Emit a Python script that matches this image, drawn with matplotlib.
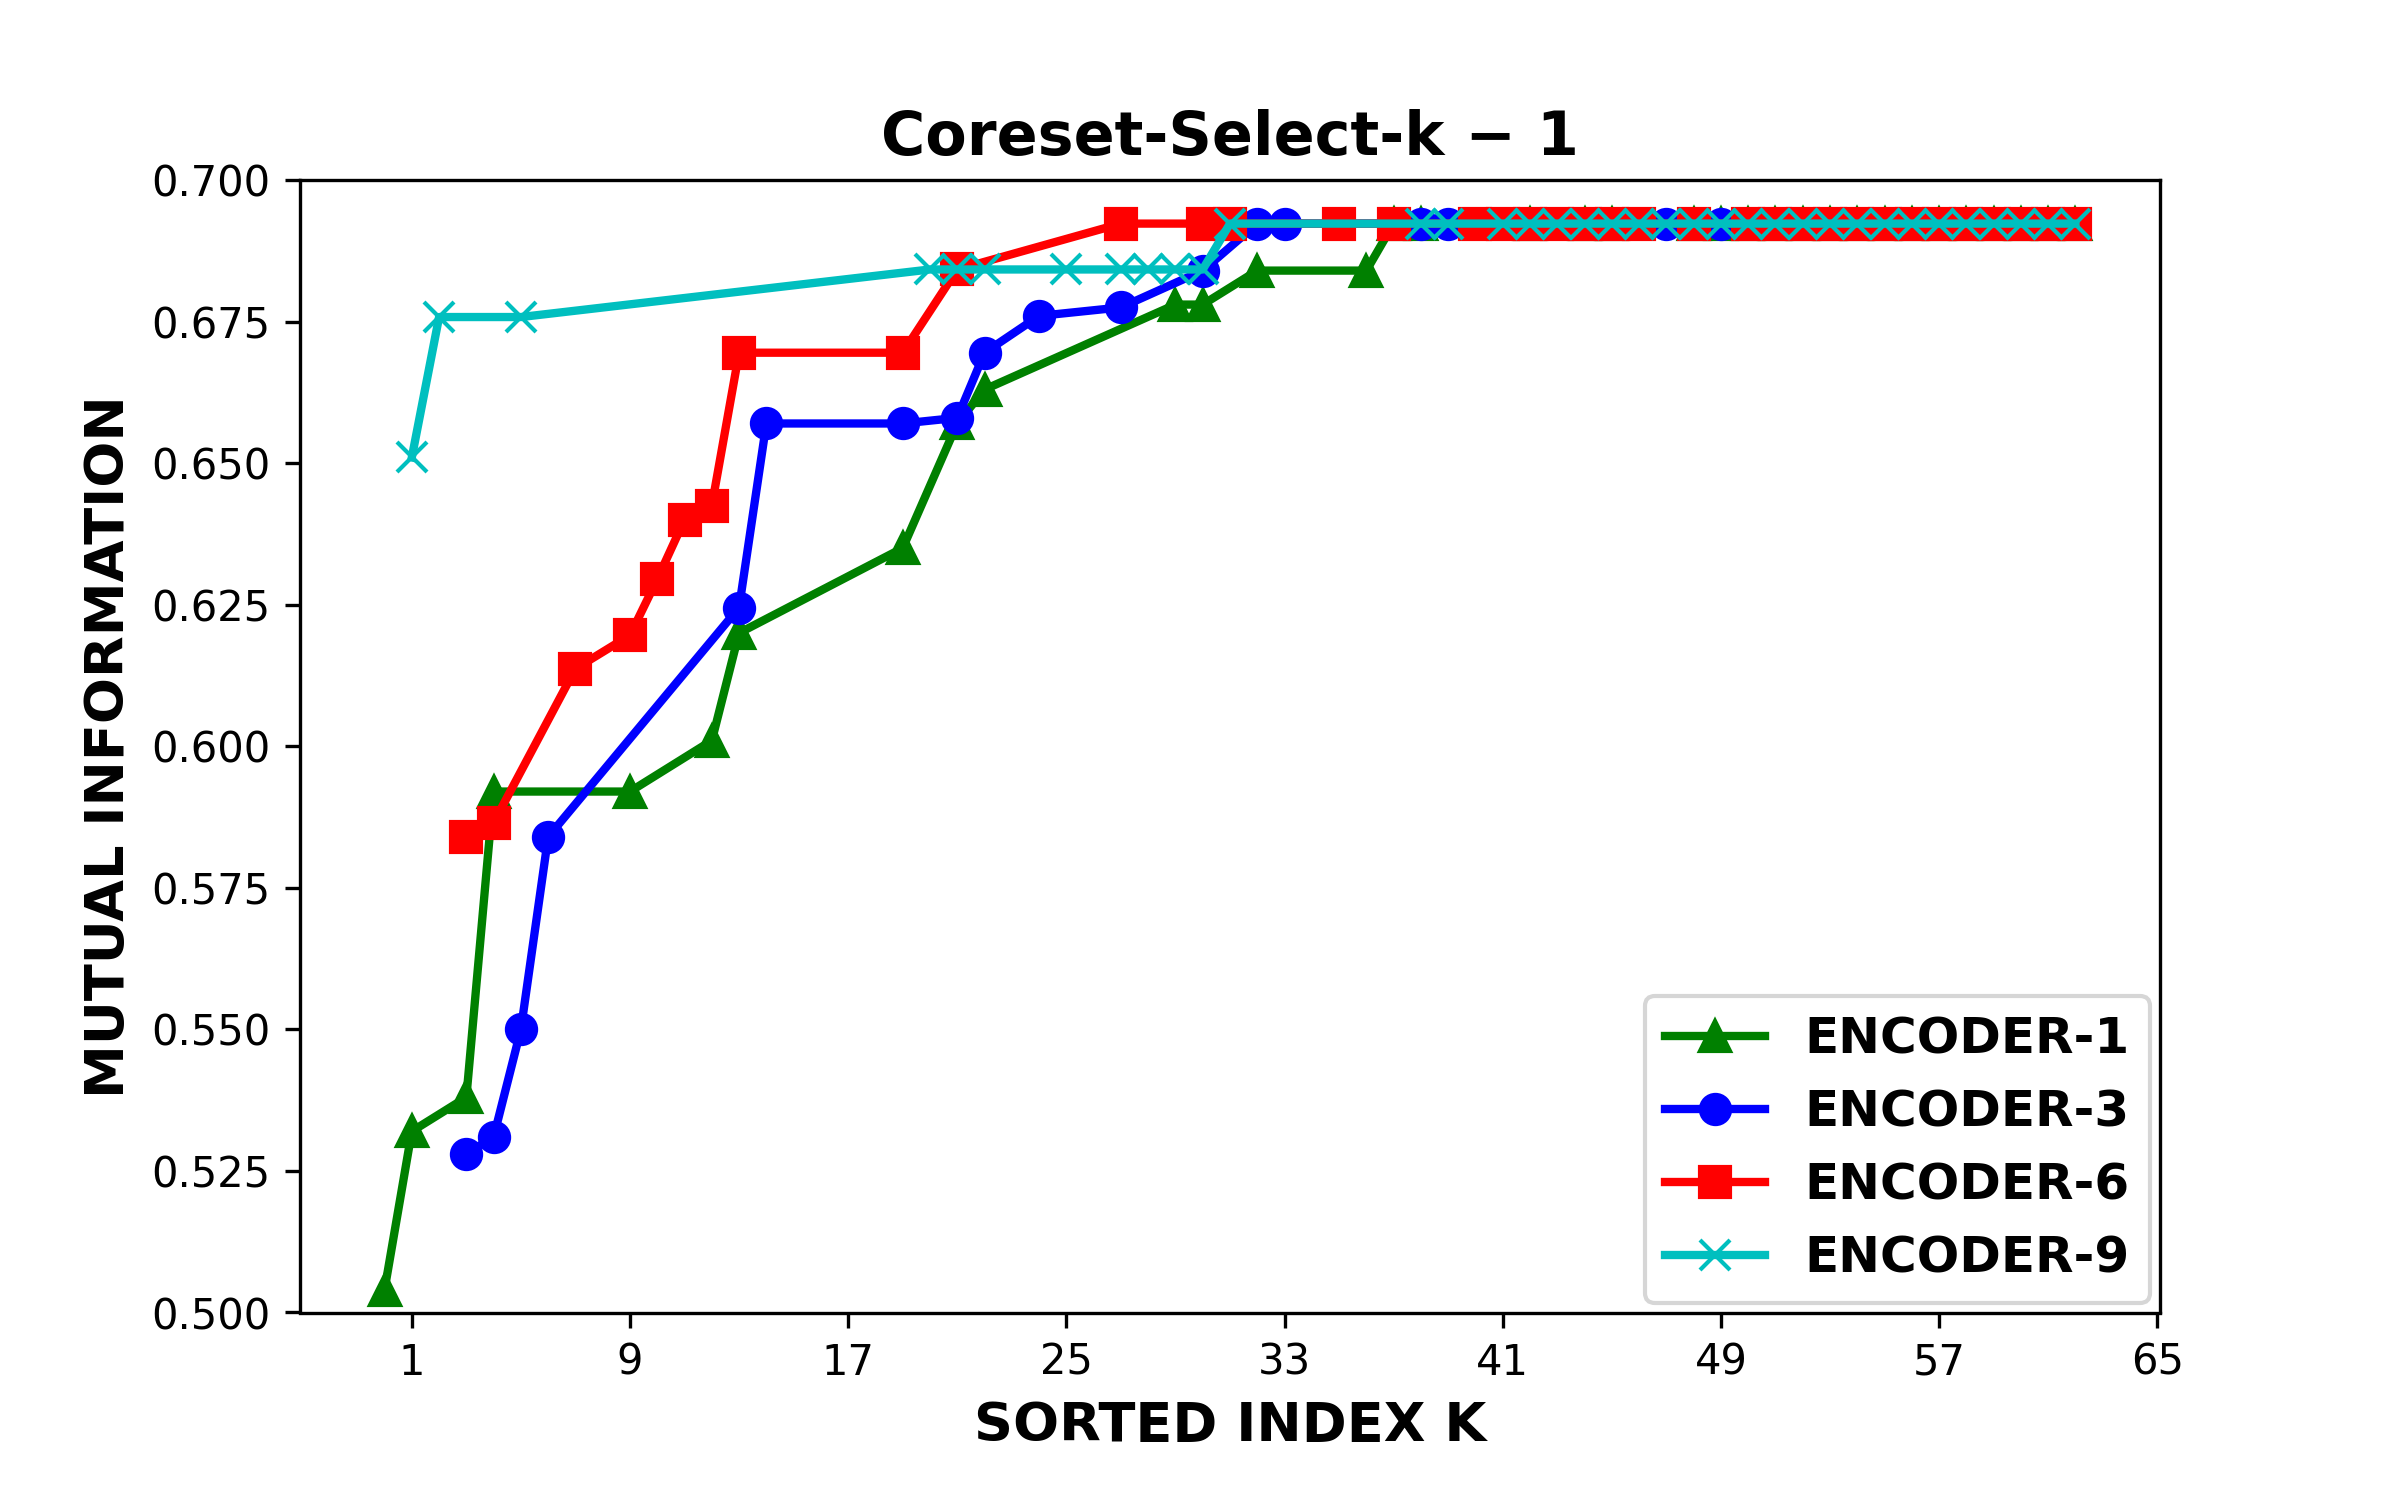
import matplotlib
matplotlib.use("Agg")
import matplotlib.pyplot as plt

# ENCODER-1
enc1_k = [0, 1, 3, 4, 9, 12, 13, 19, 21, 22, 29, 30, 32, 36,
          37, 38, 42, 44, 45, 48, 49, 50, 51, 52, 53, 54, 55, 56, 57, 58, 59, 60, 61, 62]
enc1_mi = [0.504, 0.532, 0.538, 0.592, 0.592, 0.601, 0.620, 0.635, 0.657, 0.663, 0.678, 0.678, 0.684, 0.684,
           0.6923, 0.6923, 0.6923, 0.6923, 0.6923, 0.6923, 0.6923, 0.6923, 0.6923, 0.6923,
           0.6923, 0.6923, 0.6923, 0.6923, 0.6923, 0.6923, 0.6923, 0.6923, 0.6923, 0.6923]

# ENCODER-3
enc3_k = [3, 4, 5, 6, 13, 14, 19, 21, 22, 24, 27, 30, 32, 33, 38, 39, 47, 49]
enc3_mi = [0.528, 0.531, 0.550, 0.584, 0.6245, 0.657, 0.657, 0.658, 0.6695, 0.676, 0.6775, 0.684,
           0.6923, 0.6923, 0.6923, 0.6923, 0.6923, 0.6923]

# ENCODER-6
enc6_k = [3, 4, 7, 9, 10, 11, 12, 13, 19, 21, 27, 30, 31, 35, 37, 40, 41, 42, 43, 44, 45, 46, 48,
          50, 51, 52, 53, 54, 55, 56, 57, 58, 59, 60, 61, 62]
enc6_mi = [0.584, 0.5865, 0.6137, 0.6196, 0.6295, 0.640, 0.6425, 0.6695, 0.6695, 0.6842,
           0.6923, 0.6923, 0.6923, 0.6923, 0.6923, 0.6923, 0.6923, 0.6923, 0.6923, 0.6923,
           0.6923, 0.6923, 0.6923, 0.6923, 0.6923, 0.6923, 0.6923, 0.6923, 0.6923, 0.6923,
           0.6923, 0.6923, 0.6923, 0.6923, 0.6923, 0.6923]

# ENCODER-9
enc9_k = [1, 2, 5, 20, 21, 22, 25, 27, 28, 29, 30, 31, 38, 39, 41, 42, 43, 44, 45, 46, 47, 48,
          49, 50, 51, 52, 53, 54, 55, 56, 57, 58, 59, 60, 61, 62]
enc9_mi = [0.651, 0.6758, 0.6758, 0.6842, 0.6842, 0.6842, 0.6842, 0.6842, 0.6842, 0.6842, 0.6842,
           0.6923, 0.6923, 0.6923, 0.6923, 0.6923, 0.6923, 0.6923, 0.6923, 0.6923, 0.6923, 0.6923,
           0.6923, 0.6923, 0.6923, 0.6923, 0.6923, 0.6923, 0.6923, 0.6923, 0.6923, 0.6923, 0.6923,
           0.6923, 0.6923, 0.6923]

x_ticks = [1, 9, 17, 25, 33, 41, 49, 57, 65]

fig, ax = plt.subplots(figsize=(8, 5), dpi=300)
fig.subplots_adjust(bottom=0.125)

ax.plot(enc1_k, enc1_mi, color='g', marker='^', markersize=7, linewidth=2, label='ENCODER-1')
ax.plot(enc3_k, enc3_mi, color='b', marker='o', markersize=7, linewidth=2, label='ENCODER-3')
ax.plot(enc6_k, enc6_mi, color='r', marker='s', markersize=7, linewidth=2, label='ENCODER-6')
ax.plot(enc9_k, enc9_mi, color='c', marker='x', markersize=7, linewidth=2, label='ENCODER-9')

ax.set_ylim(0.5, 0.7)
ax.set_xticks(x_ticks)
ax.set_title("Coreset-Select-k \u2212 1", fontsize=14.5, fontweight='bold')
ax.set_xlabel("SORTED INDEX K", fontsize=13, fontweight='bold')
ax.set_ylabel("MUTUAL INFORMATION", fontsize=13, fontweight='bold')
ax.legend(loc='lower right', prop={'weight': 'bold', 'size': 12}, borderaxespad=0.2)

plt.savefig("out.png")
